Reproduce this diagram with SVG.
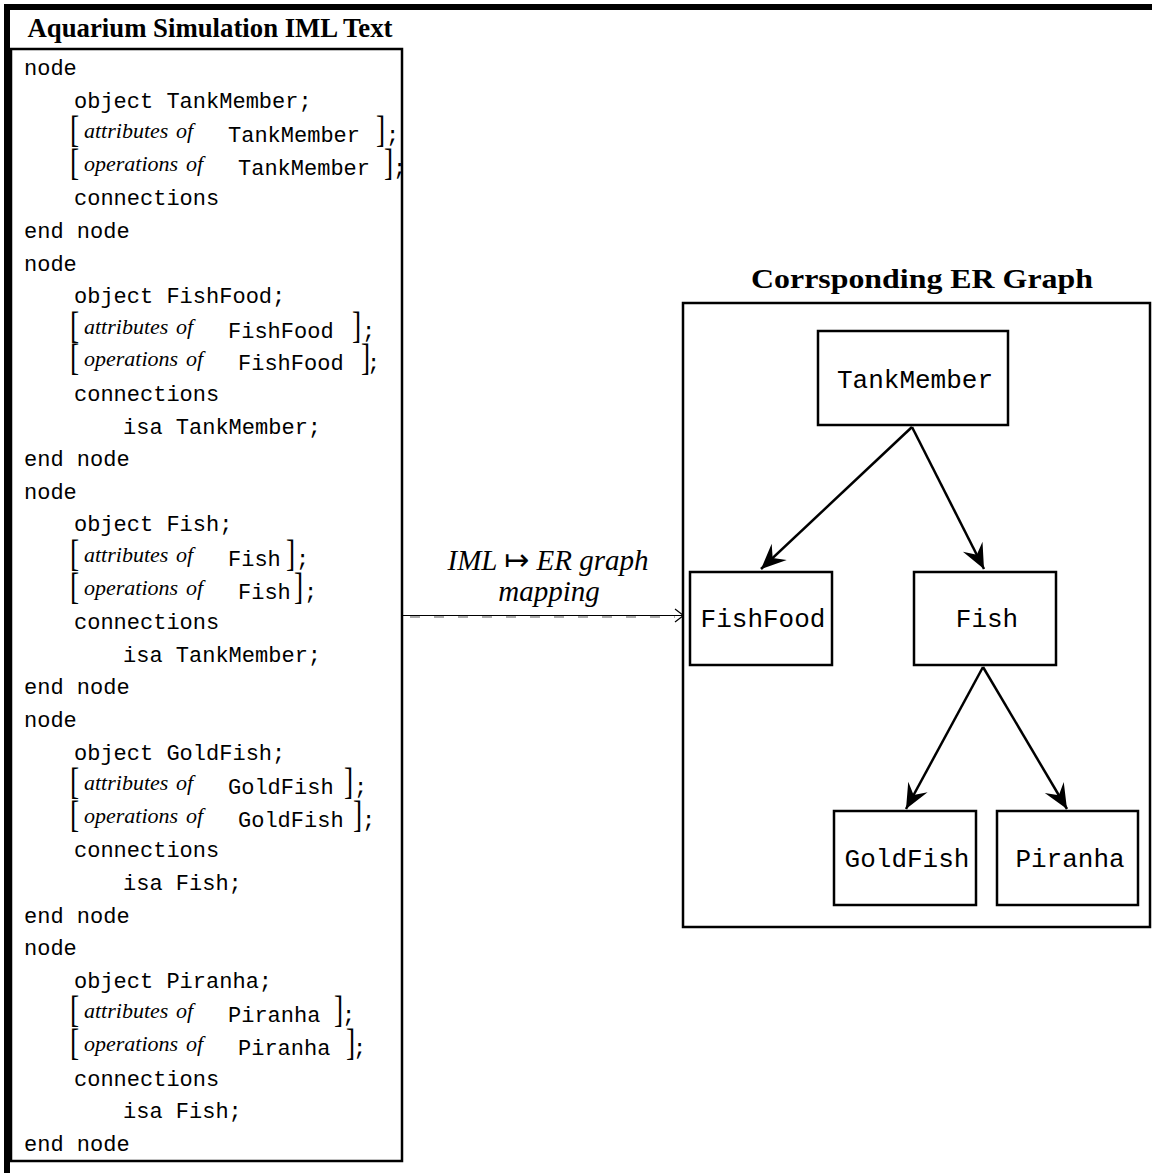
<svg xmlns="http://www.w3.org/2000/svg" width="1152" height="1173" viewBox="0 0 1152 1173">
  <style>
    .code { font-family: "Liberation Mono", "Courier New", monospace; font-size: 22px; fill: #000; }
    .it { font-family: "Liberation Serif", "Times New Roman", serif; font-style: italic; font-size: 22px; fill: #000; }
    .br { font-family: "Liberation Serif", "Times New Roman", serif; font-size: 22px; fill: #000; }
    .title { font-family: "Liberation Serif", "Times New Roman", serif; font-weight: bold; font-size: 27px; fill: #000; }
    .lbl { font-family: "Liberation Serif", "DejaVu Serif", serif; font-style: italic; font-size: 29px; fill: #000; }
    .maps { font-family: "DejaVu Sans", sans-serif; font-style: normal; font-size: 30px; }
    .box { fill: #fff; stroke: #000; stroke-width: 2.5; }
    .nodetext { font-family: "Liberation Mono", "Courier New", monospace; font-size: 26px; fill: #000; text-anchor: middle; }
    .edge { stroke: #000; stroke-width: 2.5; fill: none; }
  </style>
  <defs>
    <marker id="head" viewBox="-26 -12 28 24" refX="0" refY="0" markerWidth="28" markerHeight="24" markerUnits="userSpaceOnUse" orient="auto">
      <path d="M0,0 L-25,-11 L-16,0 L-25,11 Z" fill="#000"/>
    </marker>
  </defs>

  <rect width="1152" height="1173" fill="#fff"/>

  <!-- page frame: heavy rules along the top and left -->
  <rect x="4" y="4" width="1148" height="6" fill="#000"/>
  <rect x="4" y="4" width="6" height="1169" fill="#000"/>

  <!-- IML text panel -->
  <g id="iml-panel">
    <text class="title" x="210" y="37" text-anchor="middle" textLength="365" lengthAdjust="spacingAndGlyphs">Aquarium Simulation IML Text</text>
    <rect x="11" y="49" width="391" height="1112" fill="#fff" stroke="#000" stroke-width="2.5"/>

    <!-- TankMember -->
    <text class="code" x="24" y="75">node</text>
    <text class="code" x="74" y="107.6">object TankMember;</text>
    <text class="br" transform="translate(70,142.2) scale(1.25,1.7)">[</text>
    <text class="it" x="84" y="138.2">attributes</text><text class="it" x="176" y="138.2">of</text>
    <text class="code" x="228" y="142.2">TankMember</text>
    <text class="br" transform="translate(376,142.2) scale(1.25,1.7)">]</text>
    <text class="code" x="386" y="142.2">;</text>
    <text class="br" transform="translate(70,174.8) scale(1.25,1.7)">[</text>
    <text class="it" x="84" y="170.8">operations</text><text class="it" x="186" y="170.8">of</text>
    <text class="code" x="238" y="174.8">TankMember</text>
    <text class="br" transform="translate(384,174.8) scale(1.25,1.7)">]</text>
    <text class="code" x="393" y="174.8">;</text>
    <text class="code" x="74" y="205.4">connections</text>
    <text class="code" x="24" y="238">end node</text>

    <!-- FishFood -->
    <text class="code" x="24" y="270.6">node</text>
    <text class="code" x="74" y="303.2">object FishFood;</text>
    <text class="br" transform="translate(70,337.8) scale(1.25,1.7)">[</text>
    <text class="it" x="84" y="333.8">attributes</text><text class="it" x="176" y="333.8">of</text>
    <text class="code" x="228" y="337.8">FishFood</text>
    <text class="br" transform="translate(352,337.8) scale(1.25,1.7)">]</text>
    <text class="code" x="362" y="337.8">;</text>
    <text class="br" transform="translate(70,370.4) scale(1.25,1.7)">[</text>
    <text class="it" x="84" y="366.4">operations</text><text class="it" x="186" y="366.4">of</text>
    <text class="code" x="238" y="370.4">FishFood</text>
    <text class="br" transform="translate(361,370.4) scale(1.25,1.7)">]</text>
    <text class="code" x="367" y="370.4">;</text>
    <text class="code" x="74" y="401">connections</text>
    <text class="code" x="123" y="433.6">isa TankMember;</text>
    <text class="code" x="24" y="466.2">end node</text>

    <!-- Fish -->
    <text class="code" x="24" y="498.8">node</text>
    <text class="code" x="74" y="531.4">object Fish;</text>
    <text class="br" transform="translate(70,566) scale(1.25,1.7)">[</text>
    <text class="it" x="84" y="562">attributes</text><text class="it" x="176" y="562">of</text>
    <text class="code" x="228" y="566">Fish</text>
    <text class="br" transform="translate(286,566) scale(1.25,1.7)">]</text>
    <text class="code" x="296" y="566">;</text>
    <text class="br" transform="translate(70,598.6) scale(1.25,1.7)">[</text>
    <text class="it" x="84" y="594.6">operations</text><text class="it" x="186" y="594.6">of</text>
    <text class="code" x="238" y="598.6">Fish</text>
    <text class="br" transform="translate(294,598.6) scale(1.25,1.7)">]</text>
    <text class="code" x="304" y="598.6">;</text>
    <text class="code" x="74" y="629.2">connections</text>
    <text class="code" x="123" y="661.8">isa TankMember;</text>
    <text class="code" x="24" y="694.4">end node</text>

    <!-- GoldFish -->
    <text class="code" x="24" y="727">node</text>
    <text class="code" x="74" y="759.6">object GoldFish;</text>
    <text class="br" transform="translate(70,794.2) scale(1.25,1.7)">[</text>
    <text class="it" x="84" y="790.2">attributes</text><text class="it" x="176" y="790.2">of</text>
    <text class="code" x="228" y="794.2">GoldFish</text>
    <text class="br" transform="translate(344,794.2) scale(1.25,1.7)">]</text>
    <text class="code" x="354" y="794.2">;</text>
    <text class="br" transform="translate(70,826.8) scale(1.25,1.7)">[</text>
    <text class="it" x="84" y="822.8">operations</text><text class="it" x="186" y="822.8">of</text>
    <text class="code" x="238" y="826.8">GoldFish</text>
    <text class="br" transform="translate(353,826.8) scale(1.25,1.7)">]</text>
    <text class="code" x="362" y="826.8">;</text>
    <text class="code" x="74" y="857.4">connections</text>
    <text class="code" x="123" y="890">isa Fish;</text>
    <text class="code" x="24" y="922.6">end node</text>

    <!-- Piranha -->
    <text class="code" x="24" y="955.2">node</text>
    <text class="code" x="74" y="987.8">object Piranha;</text>
    <text class="br" transform="translate(70,1022.4) scale(1.25,1.7)">[</text>
    <text class="it" x="84" y="1018.4">attributes</text><text class="it" x="176" y="1018.4">of</text>
    <text class="code" x="228" y="1022.4">Piranha</text>
    <text class="br" transform="translate(334,1022.4) scale(1.25,1.7)">]</text>
    <text class="code" x="342" y="1022.4">;</text>
    <text class="br" transform="translate(70,1055) scale(1.25,1.7)">[</text>
    <text class="it" x="84" y="1051">operations</text><text class="it" x="186" y="1051">of</text>
    <text class="code" x="238" y="1055">Piranha</text>
    <text class="br" transform="translate(346,1055) scale(1.25,1.7)">]</text>
    <text class="code" x="353" y="1055">;</text>
    <text class="code" x="74" y="1085.6">connections</text>
    <text class="code" x="123" y="1118.2">isa Fish;</text>
    <text class="code" x="24" y="1150.8">end node</text>
  </g>

  <!-- mapping arrow between the two panels -->
  <g id="mapping">
    <text class="lbl" x="548" y="570" text-anchor="middle">IML <tspan class="maps">↦</tspan> ER graph</text>
    <text class="lbl" x="549" y="601" text-anchor="middle">mapping</text>
    <line x1="403" y1="615.5" x2="683" y2="615.5" stroke="#000" stroke-width="1"/>
    <line x1="410" y1="617" x2="675" y2="617" stroke="#555" stroke-width="1.2" stroke-dasharray="10 14"/>
    <path d="M675,609 L683.5,615.5 L675,622" fill="none" stroke="#000" stroke-width="1.2"/>
  </g>

  <!-- ER graph panel -->
  <g id="er-panel">
    <text class="title" x="922" y="288" text-anchor="middle" textLength="342" lengthAdjust="spacingAndGlyphs">Corrsponding ER Graph</text>
    <rect x="683" y="303" width="467" height="624" fill="#fff" stroke="#000" stroke-width="2.5"/>
  </g>

  <g id="connectors">
    <line class="edge" x1="912" y1="427" x2="761" y2="569" marker-end="url(#head)"/>
    <line class="edge" x1="912" y1="427" x2="984" y2="569" marker-end="url(#head)"/>
    <line class="edge" x1="983" y1="667" x2="906" y2="809" marker-end="url(#head)"/>
    <line class="edge" x1="983" y1="667" x2="1067" y2="809" marker-end="url(#head)"/>
  </g>

  <g id="node-tankmember">
    <rect class="box" x="818" y="331" width="190" height="94"/>
    <text class="nodetext" x="915" y="388">TankMember</text>
  </g>
  <g id="node-fishfood">
    <rect class="box" x="690" y="572" width="142" height="93"/>
    <text class="nodetext" x="763" y="627">FishFood</text>
  </g>
  <g id="node-fish">
    <rect class="box" x="914" y="572" width="142" height="93"/>
    <text class="nodetext" x="987" y="627">Fish</text>
  </g>
  <g id="node-goldfish">
    <rect class="box" x="834" y="811" width="142" height="94"/>
    <text class="nodetext" x="907" y="867">GoldFish</text>
  </g>
  <g id="node-piranha">
    <rect class="box" x="997" y="811" width="141" height="94"/>
    <text class="nodetext" x="1070" y="867">Piranha</text>
  </g>
</svg>
